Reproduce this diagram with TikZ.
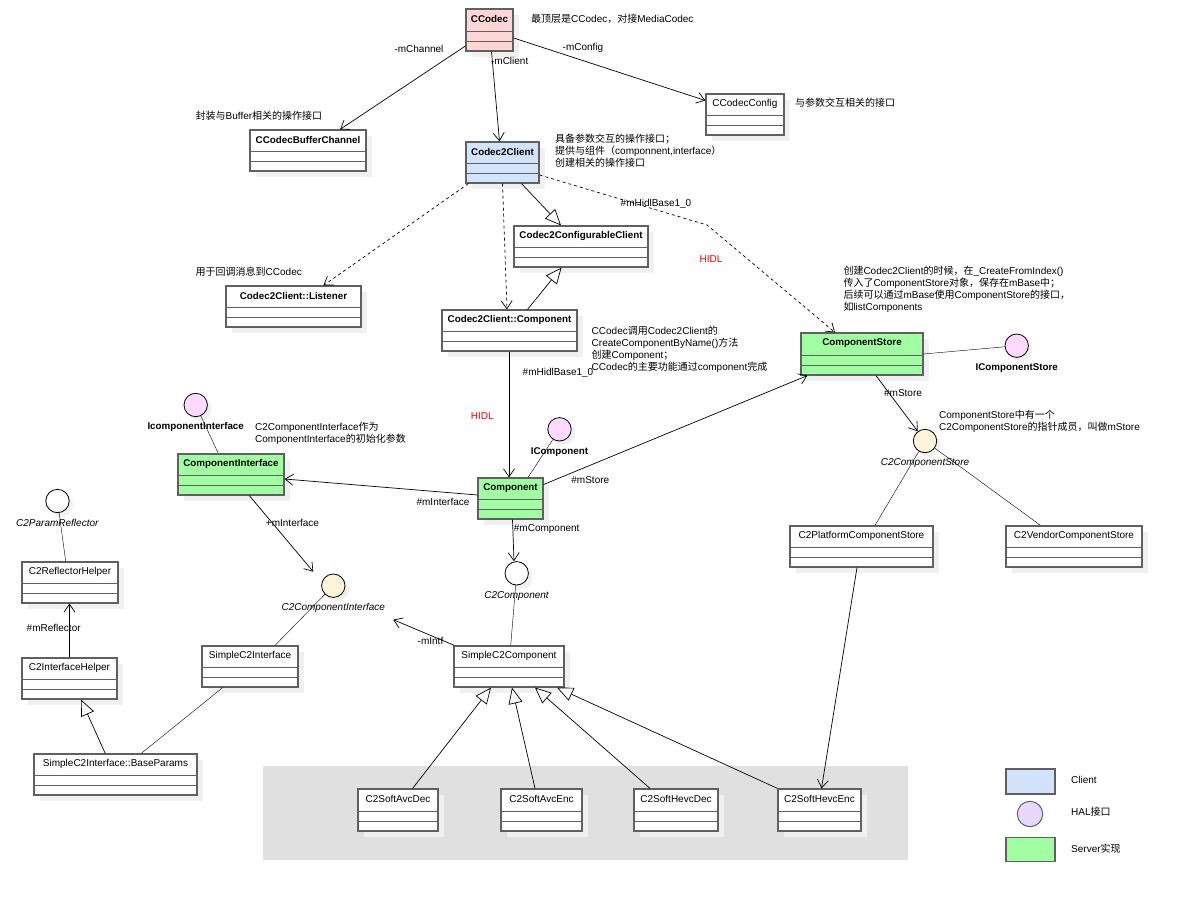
\documentclass[tikz,border=0pt]{standalone}
\usepackage{fontspec}
\setmainfont{Liberation Sans}
\newfontfamily\zhfont{Noto Sans CJK SC}
\usetikzlibrary{arrows.meta,shadows}

\newcommand{\zh}[1]{{\zhfont #1}}
\newcommand{\bt}[1]{{\fontsize{9.8}{12}\selectfont\bfseries #1}}

\definecolor{clientblue}{HTML}{D4E3FC}
\definecolor{servergreen}{HTML}{A0FFA0}
\definecolor{codecpink}{HTML}{FFD6D6}
\definecolor{halpink}{HTML}{FFD9FF}
\definecolor{c2cream}{HTML}{FFF4D9}
\definecolor{halviolet}{HTML}{E8D8FC}
\definecolor{boxgray}{HTML}{606060}
\definecolor{areagray}{HTML}{E0E0E0}

\tikzset{
  classbox/.style={draw=boxgray, line width=1.2pt, inner sep=0pt,
    drop shadow={shadow xshift=6pt, shadow yshift=-6pt, fill=black!6, opacity=1}},
  classline/.style={draw=boxgray, line width=1.2pt},
  classtitle/.style={inner sep=0pt, font=\fontsize{10}{12}\selectfont},
  iface/.style={circle, draw=black, line width=0.8pt, minimum size=23.4pt, inner sep=0pt,
    drop shadow={shadow xshift=4pt, shadow yshift=-4pt, fill=black!6, opacity=1}},
  ifacelabel/.style={inner sep=0pt, font=\fontsize{10}{12}\selectfont},
  role/.style={inner sep=0pt, font=\fontsize{10}{12}\selectfont},
  note/.style={anchor=west, align=left, inner sep=0pt, font=\fontsize{10}{12}\selectfont},
  assoc/.style={line width=0.7pt, -{Straight Barb[length=8pt,width=11pt]}},
  dep/.style={assoc, dash pattern=on 3pt off 3pt},
  general/.style={line width=0.7pt, -{Triangle[length=16pt,width=14pt,fill=white]}},
  legendbox/.style={draw=boxgray, line width=1.2pt, inner sep=0pt}
}

% class box: [fill] name, x1, y1, x2, y2, title
\newcommand{\umlclass}[7][white]{%
  \node[classbox, fill=#1, minimum width={(#5-#3)*1pt}, minimum height={(#6-#4)*1pt}]
    (#2) at ({(#3+#5)/2},{(#4+#6)/2}) {};
  \node[classtitle] (#2title) at ([yshift=-11pt]#2.north) {#7};
  \draw[classline] ([yshift=20pt]#2.south west) -- ([yshift=20pt]#2.south east);
  \draw[classline] ([yshift=10pt]#2.south west) -- ([yshift=10pt]#2.south east);
}

\begin{document}
\begin{tikzpicture}[x=1pt,y=-1pt]
  \useasboundingbox[fill=white] (0,0) rectangle (1183,902);
  % Draw the grey area of the codecs
  \fill[areagray] (263,766) rectangle (908,860);

  % Draw the classes
  \umlclass[codecpink]{ccodec}{466}{9}{513}{51}{\bt{CCodec}}
  \umlclass{bufchan}{250}{130}{366}{171}{\bt{CCodecBufferChannel}}
  \umlclass{cconfig}{706}{94}{784}{135}{CCodecConfig}
  \umlclass[clientblue]{client}{466}{142}{539}{183}{\bt{Codec2Client}}
  \umlclass{confclient}{514}{226}{648}{267}{\bt{Codec2ConfigurableClient}}
  \umlclass{listener}{226}{286}{361}{327}{\bt{Codec2Client::Listener}}
  \umlclass{clientcomp}{442}{310}{577}{351}{\bt{Codec2Client::Component}}
  \umlclass[servergreen]{compstore}{801}{333}{923}{375}{\bt{ComponentStore}}
  \umlclass{platstore}{790}{526}{933}{567}{C2PlatformComponentStore}
  \umlclass{vendstore}{1006}{526}{1142}{567}{C2VendorComponentStore}
  \umlclass[servergreen]{compintf}{178}{454}{284}{495}{\bt{ComponentInterface}}
  \umlclass[servergreen]{comp}{478}{478}{543}{519}{\bt{Component}}
  \umlclass{reflhelper}{22}{562}{118}{603}{C2ReflectorHelper}
  \umlclass{intfhelper}{22}{658}{117}{699}{C2InterfaceHelper}
  \umlclass{simpleintf}{202}{646}{298}{687}{SimpleC2Interface}
  \umlclass{baseparams}{34}{754}{197}{795}{SimpleC2Interface::BaseParams}
  \umlclass{simplecomp}{454}{646}{564}{687}{SimpleC2Component}
  \umlclass{avcdec}{358}{789}{438}{831}{C2SoftAvcDec}
  \umlclass{avcenc}{501}{789}{582}{831}{C2SoftAvcEnc}
  \umlclass{hevcdec}{634}{789}{718}{831}{C2SoftHevcDec}
  \umlclass{hevcenc}{778}{789}{861}{831}{C2SoftHevcEnc}

  % Draw the interfaces and their names
  \foreach \name/\col/\x/\y/\txt in {
      icompstore/halpink/1016.7/345.7/\bt{IComponentStore},
      c2store/c2cream/925/441/\textit{C2ComponentStore},
      icompintf/halpink/195.7/405/\bt{IcomponentInterface},
      icomp/halpink/559.5/429.3/\bt{IComponent},
      c2comp/white/516.7/573.3/\textit{C2Component},
      c2intf/c2cream/333.3/585.7/\textit{C2ComponentInterface},
      reflector/white/57.5/501/\textit{C2ParamReflector}}{
    \node[iface, fill=\col] (\name) at (\x,\y) {};
    \node[ifacelabel] (\name label) at (\x,\y+22.4) {\txt};
  }

  % Draw the relations of CCodec
  \draw[assoc] ([yshift=-16pt]ccodec.west) -- ([xshift=32pt]bufchan.north);
  \draw[assoc] ([xshift=2pt]ccodec.south) -- ([xshift=-3pt]client.north);
  \draw[assoc] ([yshift=-8pt]ccodec.east) -- ([yshift=14pt]cconfig.west);
  \node[role] (lblchannel) at (419,49) {-mChannel};
  \node[role] (lblclient) at (509.7,61) {-mClient};
  \node[role] (lblconfig) at (583,48) {-mConfig};

  % Draw the relations of Codec2Client
  \coordinate (hidlbend) at (707,225);
  \draw[dep] ([xshift=3pt]client.south west) -- ([xshift=30pt]listener.north);
  \draw[dep] (client.south) -- ([xshift=-2.5pt]clientcomp.north);
  \draw[general] ([xshift=19pt]client.south) -- ([xshift=-20pt]confclient.north);
  \draw[general] ([xshift=18pt]clientcomp.north) -- ([xshift=-19.5pt]confclient.south);
  \draw[dep] ([yshift=-12.5pt]client.east) -- (hidlbend) -- ([xshift=-27pt]compstore.north);
  \node[role] (lblhidlbase) at (656,204) {\#mHidlBase1\_0};
  \node[role, text=red] (lblhidl) at (711,259.5) {HIDL};

  % Draw the relations of Component
  \draw[assoc] ([xshift=-0.5pt]clientcomp.south) -- ([xshift=-1.5pt]comp.north);
  \node[role] (lblhidlbasec) at (558,372.7) {\#mHidlBase1\_0};
  \node[role, text=red] (lblhidlc) at (482.3,415.7) {HIDL};
  \draw[assoc] ([yshift=14pt]comp.east) -- ([xshift=7pt]compstore.south west);
  \draw ([xshift=17.5pt]comp.north) -- (icomp);
  \draw[assoc] ([yshift=3.5pt]comp.west) -- ([yshift=-4.5pt]compintf.east);
  \draw[assoc] ([xshift=2pt]comp.south) -- ([xshift=-2.7pt]c2comp.north);
  \node[role] (lblstorec) at (590.3,480) {\#mStore};
  \node[role] (lblintfc) at (443,502) {\#mInterface};
  \node[role] (lblcomp) at (546.7,529) {\#mComponent};

  % Draw the relations of ComponentStore
  \draw (compstore.east) -- (icompstore);
  \draw[assoc] ([xshift=14pt]compstore.south) -- (c2store);
  \draw (c2store) -- ([xshift=13.5pt]platstore.north);
  \draw (c2store) -- ([xshift=-33.5pt]vendstore.north);
  \draw[assoc] ([xshift=-4.5pt]platstore.south) -- ([xshift=2pt]hevcenc.north);
  \node[role] (lblstore) at (903,392.7) {\#mStore};

  % Draw the relations of the interfaces
  \draw ([xshift=-12.7pt]compintf.north) -- (icompintf);
  \draw[assoc] ([xshift=18.3pt]compintf.south) -- ([shift={(-20pt,14pt)}]c2intf.center);
  \draw (c2comp) -- ([xshift=1.7pt]simplecomp.north);
  \draw[assoc] ([xshift=1pt]simplecomp.north west) -- ([shift={(60pt,-34pt)}]c2intf.center);
  \draw ([xshift=25pt]simpleintf.north) -- (c2intf);
  \draw ([xshift=-27.3pt]simpleintf.south) -- ([xshift=25.7pt]baseparams.north);
  \draw[general] ([xshift=-10.3pt]baseparams.north) -- ([xshift=11.5pt]intfhelper.south);
  \draw[assoc] (intfhelper.north) -- (intfhelper.north |- reflhelper.south);
  \draw ([xshift=-4.3pt]reflhelper.north) -- (reflector);
  \node[role] (lblintf) at (292.5,522.7) {+mInterface};
  \node[role] (lblintfs) at (430.5,641) {-mIntf};
  \node[role] (lblrefl) at (53.7,627.7) {\#mReflector};

  % Draw the codecs
  \foreach \child/\cx/\px in {avcdec/14.6/-18, avcenc/-6.5/3, hevcdec/-26/26}{
    \draw[general] ([xshift=\cx pt]\child.north) -- ([xshift=\px pt]simplecomp.south);
  }
  \draw[general] (hevcenc.north west) -- ([xshift=48pt]simplecomp.south);

  % Draw the notes
  \node[note] (notetop) at (531,19) {\zh{最顶层是}CCodec\zh{，对接}MediaCodec};
  \node[note] (notechan) at (195.5,116) {\zh{封装与}Buffer\zh{相关的操作接口}};
  \node[note] (noteconf) at (795,102.7) {\zh{与参数交互相关的接口}};
  \node[note] (noteclient) at (555,151) {\zh{具备参数交互的操作接口；}\\
    \zh{提供与组件（}componnent,interface\zh{）}\\ \zh{创建相关的操作接口}};
  \node[note] (notelisten) at (195.5,271.7) {\zh{用于回调消息到}CCodec};
  \node[note] (notecomp) at (591.5,349.7) {CCodec\zh{调用}Codec2Client\zh{的}\\
    CreateComponentByName()\zh{方法}\\ \zh{创建}Component\zh{；}\\
    CCodec\zh{的主要功能通过}component\zh{完成}};
  \node[note] (notestore) at (843.3,289.7) {\zh{创建}Codec2Client\zh{的时候，在}\_CreateFromIndex()\\
    \zh{传入了}ComponentStore\zh{对象，保存在}mBase\zh{中；}\\
    \zh{后续可以通过}mBase\zh{使用}ComponentStore\zh{的接口，}\\ \zh{如}listComponents};
  \node[note] (notec2store) at (939,421.4) {ComponentStore\zh{中有一个}\\
    C2ComponentStore\zh{的指针成员，叫做}mStore};
  \node[note] (noteintf) at (255,433.8) {C2ComponentInterface\zh{作为}\\
    ComponentInterface\zh{的初始化参数}};

  % Draw the legend
  \node[legendbox, fill=clientblue, minimum width=49pt, minimum height=25pt] (legclient) at (1030.5,781.5) {};
  \node[circle, draw=boxgray, line width=1pt, fill=halviolet, minimum size=25.4pt, inner sep=0pt] (leghal) at (1030,814) {};
  \node[legendbox, fill=servergreen, minimum width=49pt, minimum height=24pt] (legserver) at (1030.5,849.7) {};
  \node[note] (legclientlabel) at (1071,780) {Client};
  \node[note] (leghallabel) at (1071,811.7) {HAL\zh{接口}};
  \node[note] (legserverlabel) at (1071,848.3) {Server\zh{实现}};
\end{tikzpicture}
\end{document}
